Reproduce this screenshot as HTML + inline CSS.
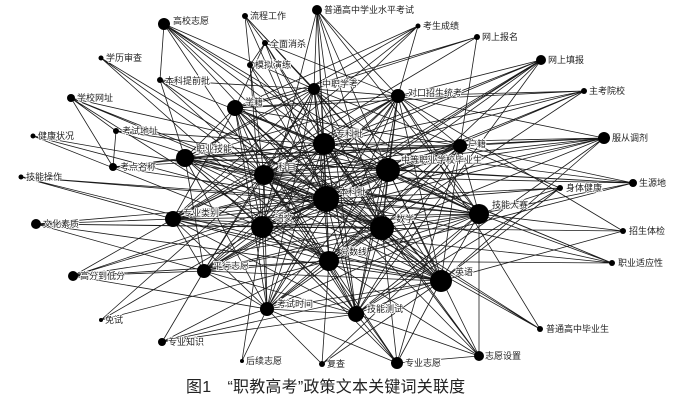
<!DOCTYPE html>
<html><head><meta charset="utf-8"><style>
html,body{margin:0;padding:0;background:#fff;}
svg{display:block;}
text{font-family:"Liberation Sans","Noto Sans CJK SC",sans-serif;font-size:9px;fill:#222;}
.lb text{stroke:#fff;stroke-width:1.6px;paint-order:stroke;}
</style></head><body>
<svg width="681" height="404" viewBox="0 0 681 404" xmlns="http://www.w3.org/2000/svg">
<g stroke="#1a1a1a" stroke-width="0.8" fill="none">
<path d="M326 199L388 170L326 199L324 144L326 199L264 175L326 199L262 227L326 199L382 228L326 199L441 281L326 199L479 214L326 199L185 158L326 199L329 261L326 199L235 108L326 199L460 146L326 199L398 96L326 199L314 89L326 199L356 314L326 199L267 309L326 199L204 271L326 199L173 219"/>
<path d="M388 170L324 144L388 170L264 175L388 170L262 227L388 170L382 228L388 170L441 281L388 170L479 214L388 170L185 158L388 170L329 261L388 170L235 108L388 170L460 146L388 170L398 96L388 170L314 89L388 170L356 314L388 170L267 309L388 170L204 271L388 170L173 219"/>
<path d="M324 144L264 175L324 144L262 227L324 144L382 228L324 144L441 281L324 144L479 214L324 144L185 158L324 144L329 261L324 144L235 108L324 144L460 146L324 144L398 96L324 144L356 314L324 144L267 309L324 144L204 271L324 144L173 219"/>
<path d="M264 175L262 227L264 175L382 228L264 175L441 281L264 175L479 214L264 175L185 158L264 175L329 261L264 175L235 108L264 175L460 146L264 175L398 96L264 175L314 89L264 175L356 314L264 175L267 309L264 175L204 271L264 175L173 219"/>
<path d="M262 227L382 228L262 227L441 281L262 227L479 214L262 227L185 158L262 227L329 261L262 227L235 108L262 227L460 146L262 227L398 96L262 227L314 89L262 227L356 314L262 227L267 309L262 227L204 271L262 227L173 219"/>
<path d="M382 228L441 281L382 228L479 214L382 228L185 158L382 228L329 261L382 228L235 108L382 228L460 146L382 228L398 96L382 228L314 89L382 228L356 314L382 228L267 309L382 228L204 271L382 228L173 219"/>
<path d="M441 281L479 214L441 281L185 158L441 281L329 261L441 281L235 108L441 281L460 146L441 281L398 96L441 281L314 89L441 281L356 314L441 281L267 309L441 281L204 271L441 281L173 219"/>
<path d="M479 214L185 158L479 214L329 261L479 214L235 108L479 214L460 146L479 214L398 96L479 214L314 89L479 214L356 314L479 214L267 309L479 214L204 271L479 214L173 219"/>
<path d="M185 158L329 261L185 158L235 108L185 158L460 146L185 158L398 96L185 158L314 89L185 158L356 314L185 158L267 309L185 158L204 271"/>
<path d="M329 261L235 108L329 261L460 146L329 261L398 96L329 261L314 89L329 261L356 314L329 261L267 309L329 261L204 271L329 261L173 219"/>
<path d="M235 108L460 146L235 108L398 96L235 108L314 89L235 108L356 314L235 108L267 309L235 108L173 219"/>
<path d="M460 146L398 96L460 146L314 89L460 146L356 314L460 146L267 309L460 146L204 271L460 146L173 219"/>
<path d="M398 96L314 89L398 96L356 314L398 96L267 309L398 96L204 271L398 96L173 219"/>
<path d="M314 89L356 314L314 89L267 309L314 89L204 271L314 89L173 219"/>
<path d="M356 314L267 309L356 314L204 271L356 314L173 219L267 309L204 271L267 309L173 219L204 271L173 219"/>
<path d="M164 24L326 199L164 24L388 170L164 24L324 144L164 24L264 175L164 24L382 228L164 24L314 89L164 24L160 80L164 24L479 214"/>
<path d="M245 16L250 65L245 16L265 43L245 16L326 199L245 16L388 170L245 16L314 89"/>
<path d="M265 43L326 199L265 43L324 144L265 43L398 96L265 43L235 108L265 43L382 228L265 43L250 65"/>
<path d="M250 65L264 175L250 65L262 227L250 65L326 199L250 65L441 281"/>
<path d="M101 58L264 175L101 58L329 261L101 58L382 228"/>
<path d="M160 80L185 158L160 80L264 175L160 80L326 199L160 80L388 170L160 80L441 281L160 80L314 89"/>
<path d="M71 98L113 167L71 98L116 131L71 98L326 199L71 98L382 228L71 98L329 261L71 98L388 170"/>
<path d="M116 131L113 167L116 131L326 199L116 131L388 170L116 131L324 144"/>
<path d="M33 136L262 227L33 136L382 228L33 136L479 214"/>
<path d="M113 167L185 158L113 167L324 144L113 167L326 199L113 167L460 146"/>
<path d="M21 177L173 219L21 177L326 199L21 177L441 281L21 177L479 214"/>
<path d="M317 10L314 89L317 10L326 199L317 10L388 170L317 10L324 144L317 10L262 227L317 10L382 228L317 10L356 314L317 10L479 214L317 10L398 96"/>
<path d="M418 26L264 175L418 26L185 158L418 26L173 219L418 26L235 108L418 26L398 96"/>
<path d="M477 37L235 108L477 37L314 89L477 37L460 146L477 37L173 219"/>
<path d="M541 60L326 199L541 60L388 170L541 60L324 144L541 60L264 175L541 60L262 227L541 60L329 261L541 60L398 96L541 60L356 314L541 60L204 271"/>
<path d="M584 91L388 170L584 91L324 144L584 91L235 108L584 91L398 96L584 91L264 175L584 91L329 261L584 91L262 227"/>
<path d="M604 138L326 199L604 138L388 170L604 138L324 144L604 138L264 175L604 138L262 227L604 138L382 228L604 138L460 146L604 138L398 96L604 138L185 158L604 138L441 281L604 138L356 314"/>
<path d="M633 183L388 170L633 183L324 144L633 183L264 175L633 183L460 146L633 183L479 214L633 183L329 261L633 183L185 158"/>
<path d="M560 188L326 199L560 188L460 146L560 188L479 214L560 188L441 281L560 188L356 314L560 188L173 219"/>
<path d="M623 231L479 214L623 231L262 227L623 231L441 281L623 231L398 96"/>
<path d="M612 263L326 199L612 263L388 170L612 263L324 144L612 263L479 214L612 263L329 261L612 263L262 227"/>
<path d="M540 329L326 199L540 329L382 228L540 329L264 175L540 329L398 96"/>
<path d="M479 356L326 199L479 356L388 170L479 356L324 144L479 356L382 228L479 356L479 214L479 356L356 314L479 356L397 363L479 356L329 261"/>
<path d="M397 363L262 227L397 363L382 228L397 363L329 261L397 363L356 314L397 363L267 309L397 363L460 146L397 363L441 281L397 363L264 175"/>
<path d="M322 364L329 261L322 364L267 309L322 364L441 281L322 364L479 214"/>
<path d="M242 361L267 309L242 361L262 227"/>
<path d="M162 342L267 309L162 342L204 271L162 342L356 314L162 342L382 228L162 342L441 281"/>
<path d="M101 320L264 175L101 320L329 261L101 320L262 227"/>
<path d="M73 276L173 219L73 276L329 261L73 276L326 199L73 276L388 170L73 276L382 228L73 276L267 309L73 276L204 271"/>
<path d="M36 224L173 219L36 224L262 227L36 224L382 228L36 224L326 199L36 224L204 271L36 224L441 281"/>
</g>
<g fill="#000">
<circle cx="326" cy="199" r="13"/><circle cx="388" cy="170" r="12"/><circle cx="324" cy="144" r="11"/>
<circle cx="264" cy="175" r="10"/><circle cx="262" cy="227" r="11"/><circle cx="382" cy="228" r="12"/>
<circle cx="441" cy="281" r="11"/><circle cx="479" cy="214" r="10"/><circle cx="185" cy="158" r="9"/>
<circle cx="329" cy="261" r="10"/><circle cx="235" cy="108" r="8"/><circle cx="460" cy="146" r="7"/>
<circle cx="398" cy="96" r="7"/><circle cx="314" cy="89" r="6"/><circle cx="356" cy="314" r="8"/>
<circle cx="267" cy="309" r="7"/><circle cx="204" cy="271" r="7"/><circle cx="173" cy="219" r="8"/>
<circle cx="164" cy="24" r="6"/><circle cx="245" cy="16" r="3"/><circle cx="265" cy="43" r="3"/>
<circle cx="250" cy="65" r="3"/><circle cx="101" cy="58" r="2.5"/><circle cx="160" cy="80" r="3"/>
<circle cx="71" cy="98" r="4"/><circle cx="116" cy="131" r="3"/><circle cx="33" cy="136" r="2.5"/>
<circle cx="113" cy="167" r="4"/><circle cx="21" cy="177" r="2.5"/><circle cx="317" cy="10" r="5"/>
<circle cx="418" cy="26" r="2.5"/><circle cx="477" cy="37" r="3"/><circle cx="541" cy="60" r="5"/>
<circle cx="584" cy="91" r="3"/><circle cx="604" cy="138" r="6"/><circle cx="633" cy="183" r="4"/>
<circle cx="560" cy="188" r="3"/><circle cx="623" cy="231" r="3"/><circle cx="612" cy="263" r="3"/>
<circle cx="540" cy="329" r="3"/><circle cx="479" cy="356" r="5"/><circle cx="397" cy="363" r="6"/>
<circle cx="322" cy="364" r="3"/><circle cx="242" cy="361" r="2"/><circle cx="162" cy="342" r="4"/>
<circle cx="101" cy="320" r="2"/><circle cx="73" cy="276" r="5"/><circle cx="36" cy="224" r="5"/>
</g>
<g class="lb">
<text x="173" y="24">高校志愿</text><text x="250" y="19">流程工作</text><text x="270" y="47">全面消杀</text>
<text x="255" y="68">模拟演练</text><text x="106" y="61">学历审查</text><text x="165" y="84">本科提前批</text>
<text x="77" y="101">学校网址</text><text x="122" y="134">考试地址</text><text x="38" y="139">健康状况</text>
<text x="120" y="170">考点名称</text><text x="26" y="180">技能操作</text><text x="324" y="13">普通高中学业水平考试</text>
<text x="423" y="29">考生成绩</text><text x="482" y="40">网上报名</text><text x="548" y="63">网上填报</text>
<text x="589" y="94">主考院校</text><text x="612" y="141">服从调剂</text><text x="639" y="186">生源地</text>
<text x="566" y="191">身体健康</text><text x="629" y="234">招生体检</text><text x="618" y="266">职业适应性</text>
<text x="546" y="332">普通高中毕业生</text><text x="485" y="359">志愿设置</text><text x="405" y="366">专业志愿</text>
<text x="327" y="367">复查</text><text x="246" y="364">后续志愿</text><text x="168" y="345">专业知识</text>
<text x="105" y="323">免试</text><text x="80" y="279">高分到低分</text><text x="43" y="227">文化素质</text>
<text x="339" y="195">本科批</text><text x="401" y="163">中等职业学校毕业生</text><text x="336" y="137">专科批</text>
<text x="278" y="170">科目</text><text x="275" y="221">语文</text><text x="396" y="222">数学</text>
<text x="455" y="275">英语</text><text x="492" y="208">技能大赛</text><text x="196" y="152">职业技能</text>
<text x="340" y="255">分数线</text><text x="245" y="105">学籍</text><text x="468" y="147">户籍</text>
<text x="408" y="96">对口招生统考</text><text x="322" y="87">中职学考</text><text x="367" y="312">技能测试</text>
<text x="277" y="307">考试时间</text><text x="213" y="269">平行志愿</text><text x="183" y="216">专业类别</text>
</g>
<text x="186" y="392" style="font-size:16px;fill:#222;letter-spacing:0.2px">图1　“职教高考”政策文本关键词关联度</text>
</svg>
</body></html>
